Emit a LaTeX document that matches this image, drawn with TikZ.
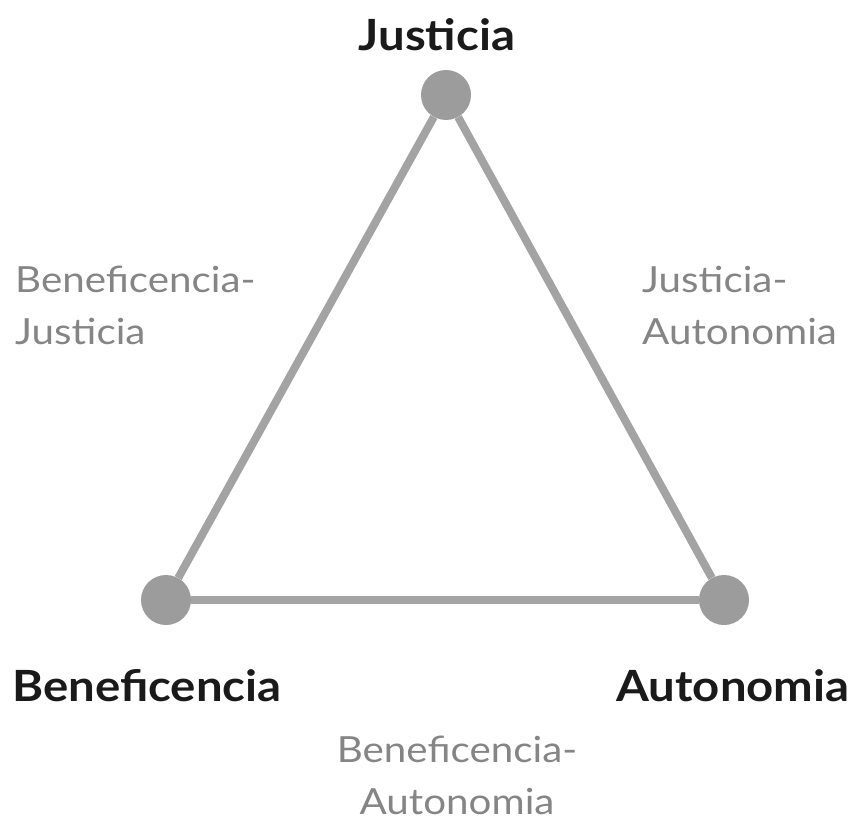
\documentclass[tikz,border=0pt]{standalone}
\usepackage{fontspec}
\setmainfont{Lato}
\newfontfamily\widefont[FakeStretch=1.1]{Lato}
\newfontfamily\widelight[FakeStretch=1.12]{Lato}
\definecolor{linegray}{HTML}{A3A3A3}
\definecolor{dotgray}{HTML}{9C9C9C}
\definecolor{labgray}{HTML}{858585}
\definecolor{titlecol}{HTML}{1A1A1A}
\begin{document}
\begin{tikzpicture}[x=1pt,y=-1pt,
  vertex/.style={circle,fill=dotgray,minimum size=50pt,inner sep=0pt},
  edge/.style={draw=linegray,line width=8pt},
  title/.style={font=\widefont\fontsize{43}{43}\selectfont\bfseries,text=titlecol,inner sep=0pt},
  pair/.style={font=\widelight\fontsize{36}{52}\selectfont,text=labgray,align=left,inner sep=0pt}]
\useasboundingbox (0,0) rectangle (856,821);
\node[vertex] (J) at (446,95) {};
\node[vertex] (B) at (166,600) {};
\node[vertex] (A) at (724,600) {};
\draw[edge] (J) -- (B);
\draw[edge] (J) -- (A);
\draw[edge] (B) -- (A);
\node[title] (tJ) at (437,35) {Justicia};
\node[title] (tB) at (147,686) {Beneficencia};
\node[title] (tA) at (733,686) {Autonomia};
\node[pair,anchor=west] (lBJ) at (15,305) {Beneficencia-\\Justicia};
\node[pair,anchor=west] (lJA) at (642,305) {Justicia-\\Autonomia};
\node[pair,align=center] (lBA) at (457,775) {Beneficencia-\\Autonomia};
\end{tikzpicture}
\end{document}
